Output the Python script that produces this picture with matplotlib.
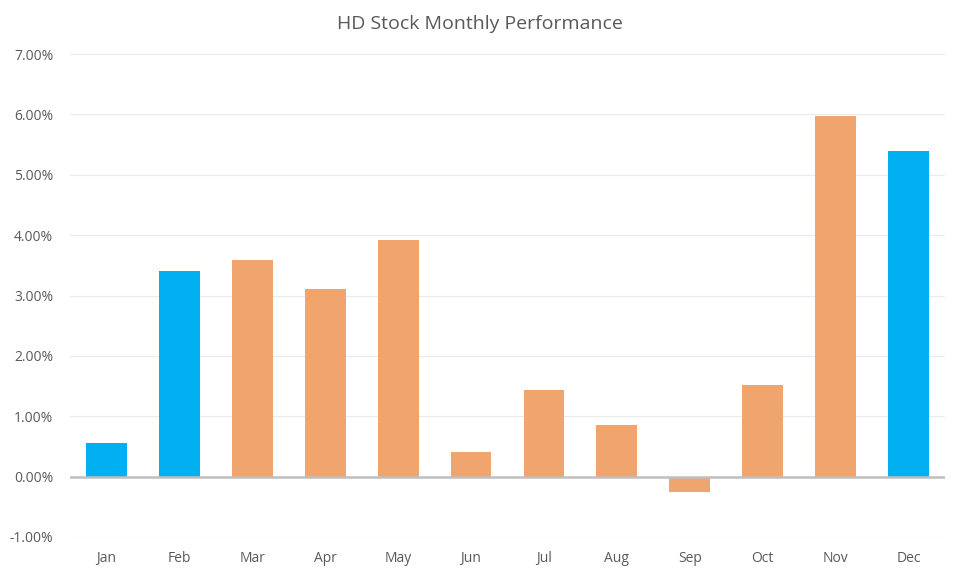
import matplotlib
matplotlib.use("Agg")
import matplotlib.pyplot as plt
from matplotlib.ticker import FuncFormatter, MultipleLocator

months = ["Jan", "Feb", "Mar", "Apr", "May", "Jun", "Jul", "Aug", "Sep", "Oct", "Nov", "Dec"]
returns = [0.56, 3.41, 3.59, 3.11, 3.92, 0.41, 1.44, 0.86, -0.26, 1.52, 5.97, 5.39]
highlight = [True, True, False, False, False, False, False, False, False, False, False, True]

BLUE = "#00B0F0"
ORANGE = "#F0A46E"

plt.rcParams['font.family'] = ['Open Sans', 'DejaVu Sans']

fig = plt.figure(figsize=(9.6, 5.76), dpi=100)
ax = fig.add_axes([70/960, 1-537/576, 875/960, (537-54)/576])

colors = [BLUE if h else ORANGE for h in highlight]
x = range(len(months))
ax.bar(x, returns, width=0.56, color=colors, zorder=3)

ax.set_xlim(-0.5, len(months) - 0.5)
ax.set_ylim(-1, 7)
ax.yaxis.set_major_locator(MultipleLocator(1))
ax.yaxis.set_major_formatter(FuncFormatter(lambda v, p: f"{v:.2f}%"))
ax.grid(axis='y', color='#EBEBEB', linewidth=0.9, zorder=0)
ax.axhline(0, color='#BFBFBF', linewidth=1.8, zorder=4)

for s in ax.spines.values():
    s.set_visible(False)
ax.tick_params(axis='both', length=0, colors='#595959', labelsize=10)
ax.tick_params(axis='y', pad=12)
ax.tick_params(axis='x', pad=10)
ax.set_xticks(list(x))
ax.set_xticklabels(months)

fig.text(480/960, 1-24/576, "HD Stock Monthly Performance", ha='center', va='center',
         fontsize=14, color='#595959')

fig.savefig("out.png", dpi=100, facecolor='white')
